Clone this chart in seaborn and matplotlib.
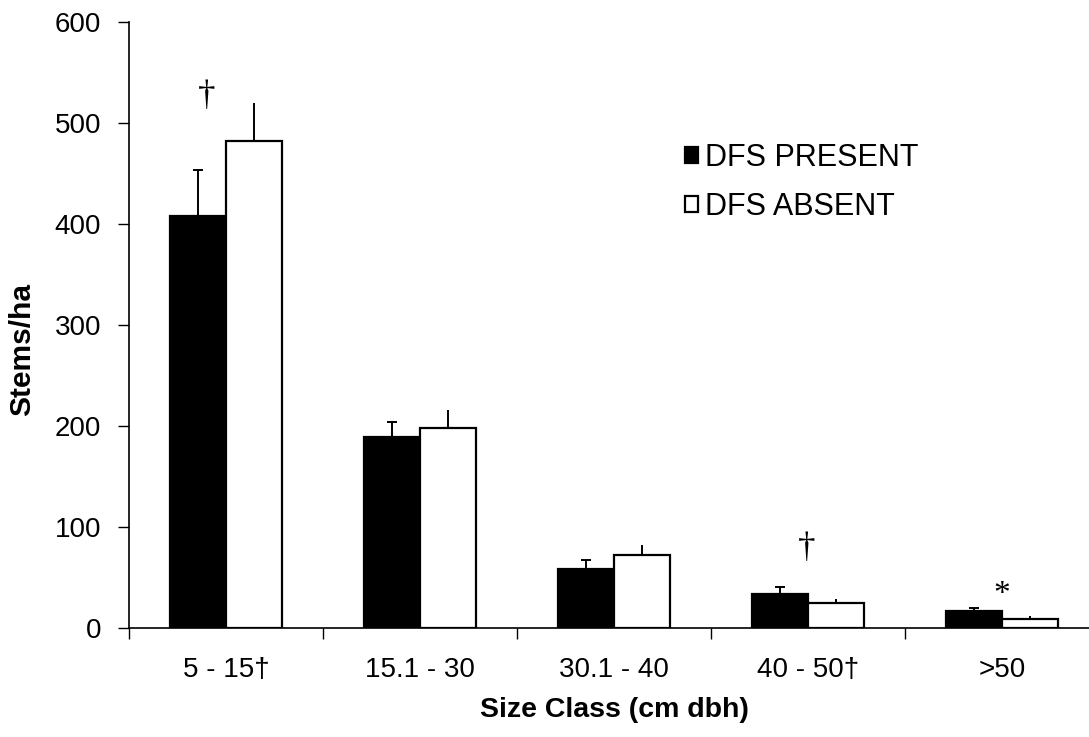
import matplotlib
matplotlib.use("Agg")
import matplotlib.pyplot as plt
from matplotlib.ticker import FixedLocator
import seaborn as sns
import pandas as pd
import numpy as np

categories = ["5 - 15†", "15.1 - 30", "30.1 - 40", "40 - 50†", ">50"]
groups = ["DFS PRESENT", "DFS ABSENT"]
present_vals = [408, 189, 58, 34, 17]
absent_vals = [482, 198, 72, 25, 9]
present_err = [45, 15, 9, 7, 3]
absent_err = [38, 18, 10, 4, 3]

sns.set_style("white")
plt.rcParams["font.family"] = ["Liberation Sans", "DejaVu Sans"]
for k in ["text.color", "axes.labelcolor", "xtick.color", "ytick.color"]:
    plt.rcParams[k] = "black"

df = pd.DataFrame({
    "Size": categories * 2,
    "Group": [groups[0]] * len(categories) + [groups[1]] * len(categories),
    "Stems": present_vals + absent_vals,
})

fig = plt.figure(figsize=(10.89, 7.37), dpi=100)
ax = fig.add_axes([129 / 1089, (737 - 628) / 737, 970 / 1089, (628 - 22) / 737])

sns.barplot(data=df, x="Size", y="Stems", hue="Group", order=categories,
            hue_order=groups, palette=["black", "white"], edgecolor="black",
            linewidth=1.6, width=0.58, errorbar=None, ax=ax, legend=True)

errs = [present_err, absent_err]
bar_containers = list(ax.containers)[:2]
for gi, cont in enumerate(bar_containers):
    for bar, e in zip(cont, errs[gi]):
        xc = bar.get_x() + bar.get_width() / 2
        h = bar.get_height()
        ax.errorbar([xc], [h], yerr=[[0], [e]], fmt="none", ecolor="black",
                    elinewidth=1.4, capsize=3.8 if gi == 0 else 0, capthick=1.4,
                    zorder=1)

# significance marks
serif = ["Liberation Serif", "DejaVu Serif"]
ax.text(-0.1, 510, "†", ha="center", va="bottom", fontsize=25, family=serif)
ax.text(2.995, 62, "†", ha="center", va="bottom", fontsize=25, family=serif)
ax.text(4.0, 18, "*", ha="center", va="bottom", fontsize=24, family=serif)

ax.set_ylim(0, 600)
ax.set_xlim(-0.5, 4.5)
ax.set_yticks(np.arange(0, 601, 100))
ax.tick_params(axis="y", which="major", direction="out", length=8, width=1,
               labelsize=20, pad=12, left=True, color="black")
ax.tick_params(axis="x", which="major", length=0, labelsize=20, pad=21)
ax.xaxis.set_minor_locator(FixedLocator(np.arange(-0.5, 5, 1.0)))
ax.tick_params(axis="x", which="minor", direction="out", length=8, width=1,
               bottom=True, color="black")
sns.despine(ax=ax)
for s in ["left", "bottom"]:
    ax.spines[s].set_color("black")
    ax.spines[s].set_linewidth(1.2)

ax.set_xlabel("Size Class (cm dbh)", fontsize=20.5, fontweight="bold", labelpad=10)
ax.set_ylabel("Stems/ha", fontsize=21.5, fontweight="bold")
ax.yaxis.set_label_coords(-0.096, 0.46)

handles, labels = ax.get_legend_handles_labels()
ax.legend(handles, labels, loc="upper left", bbox_to_anchor=(676 / 1089, 1 - 134 / 737),
          bbox_transform=fig.transFigure, frameon=False, fontsize=22,
          handlelength=0.42, handleheight=0.42, handletextpad=0.22, labelspacing=0.62,
          borderaxespad=0, borderpad=0.3)

fig.savefig("out.png", dpi=100)
